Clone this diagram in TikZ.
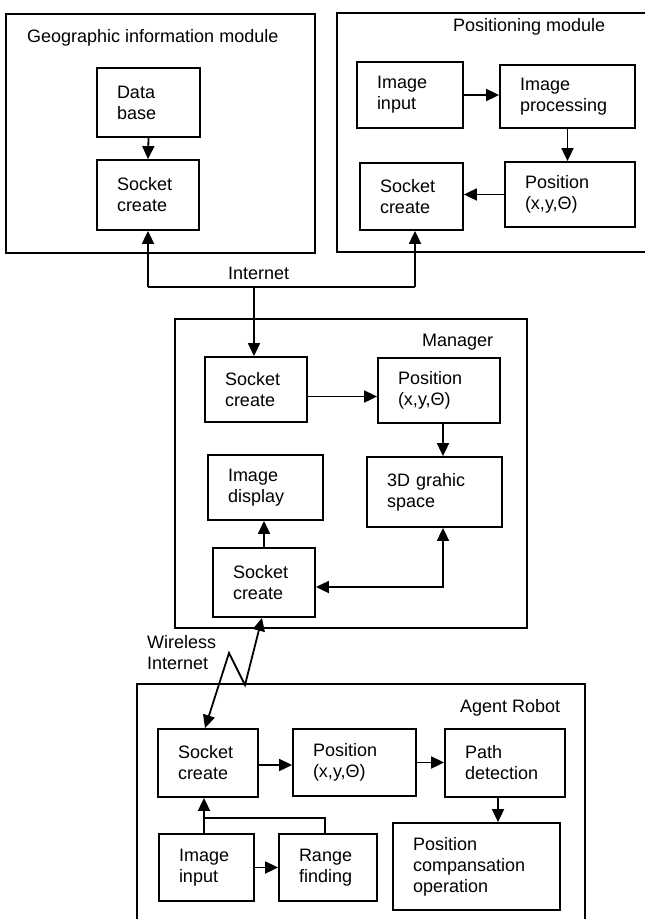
\documentclass[tikz,border=0pt]{standalone}
\usepackage{fontspec}
\setmainfont{Liberation Sans}
\usetikzlibrary{arrows.meta,calc}
\begin{document}
\begin{tikzpicture}[x=1pt,y=-1pt,
  blk/.style={draw, line width=1.8pt, inner xsep=20pt, inner ysep=1pt, align=left, font=\fontsize{18}{21}\selectfont},
  lbl/.style={inner sep=0pt, font=\fontsize{18}{21}\selectfont},
  modframe/.style={line width=1.6pt},
  conn/.style={line width=1.8pt},
  arr/.style={conn, -{Triangle[length=13pt,width=12pt]}},
  arr2/.style={conn, {Triangle[length=13pt,width=12pt]}-{Triangle[length=13pt,width=12pt]}}]
\useasboundingbox (0,0) rectangle (646,919);

% module frames
\draw[modframe] (6,14) rectangle (315,253);
\draw[modframe] (645,13) -- (337,13) -- (337,252) -- (645,252);
\draw[modframe] (175,319) rectangle (527,628);
\draw[modframe] (137,919) -- (137,684) -- (585,684) -- (585,919);

% titles
\node[lbl, anchor=base west] (tgi) at (27,42) {Geographic information module};
\node[lbl, anchor=base west] (tpos) at (453,31) {Positioning module};
\node[lbl, anchor=base west] (tmgr) at (422,346) {Manager};
\node[lbl, anchor=base west] (tagt) at (460,712) {Agent Robot};
\node[lbl, anchor=base west] (tinet) at (228,279) {Internet};
\node[lbl, anchor=west, align=left] (twl) at (147,653) {Wireless\\Internet};

% geographic information module
\node[blk, text width=63pt, minimum height=69pt] (gdb) at (148.5,102.5) {Data\\base};
\node[blk, text width=62pt, minimum height=70pt] (gsock) at (148,195) {Socket\\create};

% positioning module
\node[blk, text width=66pt, minimum height=66pt] (pin) at (410,95) {Image\\input};
\node[blk, text width=95pt, minimum height=63pt] (pproc) at (567.5,96.5) {Image\\processing};
\node[blk, text width=90pt, minimum height=65pt] (ppos) at (570,194.5) {Position\\(x,y,Θ)};
\node[blk, text width=63pt, minimum height=67pt] (psock) at (411.5,196.5) {Socket\\create};

% manager
\node[blk, text width=62pt, minimum height=65pt] (msock1) at (256,389.5) {Socket\\create};
\node[blk, text width=82pt, minimum height=65pt] (mpos) at (439,390.5) {Position\\(x,y,Θ)};
\node[blk, text width=95pt, minimum height=70pt] (m3d) at (434.5,492) {3D grahic\\space};
\node[blk, text width=75pt, minimum height=65pt] (mdisp) at (265.5,487.5) {Image\\display};
\node[blk, text width=62pt, minimum height=69pt] (msock2) at (264,582.5) {Socket\\create};

% agent robot
\node[blk, text width=60pt, minimum height=68pt] (asock) at (208,763) {Socket\\create};
\node[blk, text width=83pt, minimum height=67pt] (apos) at (354.5,762.5) {Position\\(x,y,Θ)};
\node[blk, text width=80pt, minimum height=68pt] (apath) at (505,763) {Path\\detection};
\node[blk, text width=127pt, minimum height=87pt] (acomp) at (476.5,866.5) {Position\\compansation\\operation};
\node[blk, text width=55pt, minimum height=67pt] (ain) at (206.5,867.5) {Image\\input};
\node[blk, text width=58pt, minimum height=67pt] (arange) at (328,867.5) {Range\\finding};

% connectors: geographic / positioning
\draw[arr] (gdb.south) -- (gsock.north);
\draw[arr] (pin.east) -- (pin.east -| pproc.west);
\draw[arr] (pproc.south) -- (pproc.south |- ppos.north);
\draw[arr] (ppos.west) -- (ppos.west -| psock.east);

% internet
\coordinate (inetL) at (148,287);
\coordinate (inetR) at (415,287);
\coordinate (inetM) at (254,287);
\draw[conn] (inetL) -- (inetR);
\draw[arr] (inetL) -- (gsock.south);
\draw[arr] (inetR) -- (inetR |- psock.south);
\draw[arr] (inetM) -- (inetM |- msock1.north);

% manager
\draw[arr] ([yshift=-7pt]msock1.east) -- ([yshift=-7pt]msock1.east -| mpos.west);
\draw[arr] ([xshift=4pt]mpos.south) -- ([xshift=4pt]mpos.south |- m3d.north);
\draw[arr] (msock2.north) -- (mdisp.south -| msock2.north);
\draw[arr2] ([yshift=-4.5pt]msock2.east) -| ([xshift=8.5pt]m3d.south);

% wireless
\coordinate (zz1) at (245,685);
\coordinate (zz2) at (229,653);
\draw[arr2] ([xshift=-2pt]msock2.south) -- (zz1) -- (zz2) -- ([xshift=-3pt]asock.north);

% agent robot
\draw[arr] ([yshift=-2pt]asock.east) -- ([yshift=-2pt]asock.east -| apos.west);
\draw[arr] (apos.east) -- (apos.east -| apath.west);
\draw[arr] ([xshift=-7pt]apath.south) -- ([xshift=-7pt]apath.south |- acomp.north);
\draw[arr] (ain.east) -- (ain.east -| arange.west);
\coordinate (rj) at (204,818);
\draw[arr] ([xshift=-2.5pt]ain.north) -- ([xshift=-2.5pt]ain.north |- asock.south);
\draw[conn] ([xshift=-3pt]arange.north) |- (rj);
\end{tikzpicture}
\end{document}
